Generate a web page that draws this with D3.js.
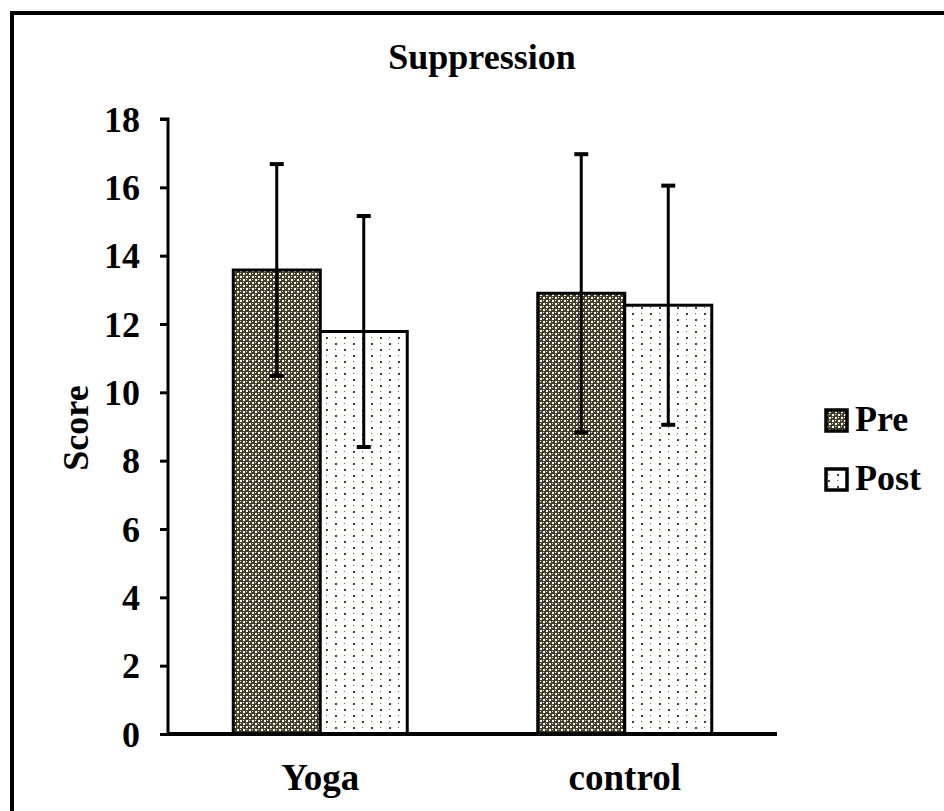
<!DOCTYPE html>
<html>
<head>
<meta charset="utf-8">
<script src="https://cdn.jsdelivr.net/npm/d3@7"></script>
<style>
  body { margin: 0; background: #fff; }
  text { font-family: "Liberation Serif", "Times New Roman", serif; font-weight: bold; fill: #000; }
</style>
</head>
<body>
<div id="chart"></div>
<script>
// data
const groups = ['Yoga', 'control'];
const series = ['Pre', 'Post'];
const preMeans = [13.58, 12.9];
const postMeans = [11.78, 12.55];
const preSD = [3.1, 4.07];
const postSD = [3.38, 3.5];
const yTicks = [0, 2, 4, 6, 8, 10, 12, 14, 16, 18];

const width = 944, height = 811;
const plot = { left: 168, right: 777, top: 119, bottom: 734 };
const serif = '"Liberation Serif", "Times New Roman", serif';

const svg = d3.select('#chart').append('svg')
    .attr('width', width)
    .attr('height', height);

// fill patterns
const defs = svg.append('defs');
const pPre = defs.append('pattern')
    .attr('id', 'pat-pre')
    .attr('patternUnits', 'userSpaceOnUse')
    .attr('width', 6).attr('height', 6);
pPre.append('rect').attr('width', 6).attr('height', 6).attr('fill', '#453f2a');
pPre.append('rect').attr('x', 0).attr('y', 0).attr('width', 2).attr('height', 2).attr('fill', '#fff');
pPre.append('rect').attr('x', 3).attr('y', 3).attr('width', 2).attr('height', 2).attr('fill', '#fff');
pPre.append('rect').attr('x', 3).attr('y', 0).attr('width', 1).attr('height', 1).attr('fill', '#f0eee4');
pPre.append('rect').attr('x', 0).attr('y', 3).attr('width', 1).attr('height', 1).attr('fill', '#f0eee4');

const pPost = defs.append('pattern')
    .attr('id', 'pat-post')
    .attr('patternUnits', 'userSpaceOnUse')
    .attr('width', 18).attr('height', 12);
pPost.append('rect').attr('width', 18).attr('height', 12).attr('fill', '#fff');
pPost.append('rect').attr('x', 2).attr('y', 1).attr('width', 2).attr('height', 2).attr('fill', '#453f2a');
pPost.append('rect').attr('x', 11).attr('y', 1).attr('width', 1).attr('height', 1).attr('fill', '#6b6652');
pPost.append('rect').attr('x', 11).attr('y', 7).attr('width', 2).attr('height', 2).attr('fill', '#453f2a');
pPost.append('rect').attr('x', 2).attr('y', 7).attr('width', 1).attr('height', 1).attr('fill', '#6b6652');

// outer frame (runs off the right and bottom of the picture)
svg.append('rect')
    .attr('x', 12).attr('y', 13)
    .attr('width', width + 20).attr('height', height + 20)
    .attr('fill', 'none')
    .attr('stroke', '#000')
    .attr('stroke-width', 4);

const y = d3.scaleLinear().domain([0, 18]).range([plot.bottom, plot.top]);
const x0 = d3.scaleBand().domain(groups)
    .range([plot.left, plot.right])
    .paddingInner(0.4286)
    .paddingOuter(0.2143);
const x1 = d3.scaleBand().domain(series).range([0, x0.bandwidth()]);

const rows = [];
groups.forEach((g, i) => {
    rows.push({ group: g, key: 'Pre', value: preMeans[i], sd: preSD[i] });
    rows.push({ group: g, key: 'Post', value: postMeans[i], sd: postSD[i] });
});

// bars
svg.append('g').selectAll('rect')
    .data(rows)
    .enter().append('rect')
    .attr('x', d => x0(d.group) + x1(d.key))
    .attr('y', d => y(d.value))
    .attr('width', x1.bandwidth())
    .attr('height', d => y(0) - y(d.value))
    .attr('fill', d => d.key === 'Pre' ? 'url(#pat-pre)' : 'url(#pat-post)')
    .attr('stroke', '#000')
    .attr('stroke-width', 3);

// error bars
const eb = svg.append('g').selectAll('g')
    .data(rows)
    .enter().append('g')
    .attr('transform', d => `translate(${x0(d.group) + x1(d.key) + x1.bandwidth() / 2},0)`);
eb.append('line')
    .attr('y1', d => y(d.value + d.sd))
    .attr('y2', d => y(d.value - d.sd))
    .attr('stroke', '#000').attr('stroke-width', 3);
eb.append('line')
    .attr('x1', -7).attr('x2', 7)
    .attr('y1', d => y(d.value + d.sd)).attr('y2', d => y(d.value + d.sd))
    .attr('stroke', '#000').attr('stroke-width', 4);
eb.append('line')
    .attr('x1', -7).attr('x2', 7)
    .attr('y1', d => y(d.value - d.sd)).attr('y2', d => y(d.value - d.sd))
    .attr('stroke', '#000').attr('stroke-width', 4);

// y axis
const yAxis = svg.append('g')
    .attr('transform', `translate(${plot.left},0)`)
    .call(d3.axisLeft(y).tickValues(yTicks).tickSize(8).tickPadding(20));
yAxis.select('.domain').attr('stroke-width', 3).attr('d', `M-8,${plot.top}H0V${plot.bottom}`);
yAxis.selectAll('.tick line').attr('stroke-width', 3);
yAxis.selectAll('.tick text')
    .style('font-size', '36px')
    .style('font-family', serif)
    .style('font-weight', 'bold')
    .attr('dy', '0.34em');

// x axis
const xAxis = svg.append('g')
    .attr('transform', `translate(0,${plot.bottom})`)
    .call(d3.axisBottom(x0).tickSize(0).tickPadding(30));
xAxis.select('.domain').attr('stroke-width', 4).attr('d', `M${plot.left},0H${plot.right}`);
xAxis.selectAll('.tick text')
    .style('font-size', '37px')
    .style('font-family', serif)
    .style('font-weight', 'bold');

// title and axis label
svg.append('text')
    .attr('x', 482).attr('y', 69)
    .attr('text-anchor', 'middle')
    .style('font-family', serif)
    .style('font-size', '36px')
    .text('Suppression');

svg.append('text')
    .attr('transform', 'translate(88,428) rotate(-90)')
    .attr('text-anchor', 'middle')
    .style('font-family', serif)
    .style('font-size', '36px')
    .text('Score');

// legend
const legend = svg.append('g').selectAll('g')
    .data(series)
    .enter().append('g')
    .attr('transform', (d, i) => `translate(826,${420 + i * 59})`);
legend.append('rect')
    .attr('x', 0).attr('y', -10)
    .attr('width', 21).attr('height', 21)
    .attr('fill', d => d === 'Pre' ? 'url(#pat-pre)' : 'url(#pat-post)')
    .attr('stroke', '#000')
    .attr('stroke-width', 3.5);
legend.append('text')
    .attr('x', 29).attr('y', 11)
    .style('font-family', serif)
    .style('font-size', '36px')
    .text(d => d);
</script>
</body>
</html>
